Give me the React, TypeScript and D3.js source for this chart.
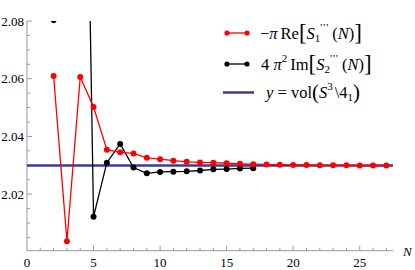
import React from 'react';
import * as d3 from 'd3';

// red: -pi Re[S1'''(N)], N = 2..27
const redN = [2, 3, 4, 5, 6, 7, 8, 9, 10, 11, 12, 13, 14, 15, 16, 17, 18, 19, 20, 21, 22, 23, 24, 25, 26, 27];
const redValues = [
  2.0609, 2.0037, 2.0606, 2.0502, 2.0354, 2.0345, 2.0341, 2.0326, 2.0321, 2.0316,
  2.0312, 2.031, 2.0309, 2.0307, 2.0305, 2.0304, 2.0303, 2.0302, 2.0301, 2.0301,
  2.03, 2.03, 2.03, 2.0299, 2.0299, 2.0299,
];

// black: 4 pi^2 Im[S2'''(N)], N = 2..17 (3 and 4 lie far above the plot)
const blackN = [2, 3, 4, 5, 6, 7, 8, 9, 10, 11, 12, 13, 14, 15, 16, 17];
const blackValues = [
  2.0803, 2.35, 2.2834, 2.0122, 2.0309, 2.0374, 2.0292, 2.0272, 2.0277, 2.0278,
  2.0279, 2.0282, 2.0286, 2.0287, 2.0289, 2.029,
];

const volume = 2.029883;

const xTicks = [0, 5, 10, 15, 20, 25];
const yTicks = [2.02, 2.04, 2.06, 2.08];

const W = 415;
const H = 270;
const left = 27;
const right = 393;
const top = 21;
const bottom = 250.7;

const serif = { fontFamily: "'Liberation Serif', 'Times New Roman', Times, 'DejaVu Serif', serif" };

export default function App() {
  const x = d3.scaleLinear().domain([0, 27.5]).range([left, right]);
  const y = d3.scaleLinear().domain([2.0004, 2.08]).range([bottom, top]);

  const line = d3
    .line<[number, number]>()
    .x((d) => x(d[0]))
    .y((d) => y(d[1]));

  const redPts: [number, number][] = redN.map((n, i) => [n, redValues[i]]);
  const blackPts: [number, number][] = blackN.map((n, i) => [n, blackValues[i]]);

  const xMinor = d3.range(1, 28).filter((v) => v % 5 !== 0);
  // minor y ticks every 0.005, skipping the labelled ones
  const yMinor = d3.range(1, 16).filter((k) => k % 4 !== 0).map((k) => 2 + k * 0.005);

  const axisColor = '#999';

  return (
    <div style={{ position: 'fixed', left: 0, top: 0 }}>
      <svg width={W} height={H} style={{ display: 'block', background: '#fff' }}>
        <defs>
          <clipPath id="plot">
            <rect x={left} y={top} width={right - left + 10} height={bottom - top} />
          </clipPath>
        </defs>

        {/* axes */}
        <line x1={left} x2={right} y1={bottom} y2={bottom} stroke={axisColor} strokeWidth={1} />
        <line x1={left} x2={left} y1={top} y2={bottom} stroke={axisColor} strokeWidth={1} />

        {xTicks.map((t) => (
          <g key={'xt' + t}>
            {t > 0 && <line x1={x(t)} x2={x(t)} y1={bottom} y2={bottom - 5} stroke={axisColor} />}
            <text x={x(t)} y={bottom + 16} textAnchor="middle" style={serif} fontSize={13}>
              {t}
            </text>
          </g>
        ))}
        {xMinor.map((t) => (
          <line key={'xm' + t} x1={x(t)} x2={x(t)} y1={bottom} y2={bottom - 3} stroke={axisColor} />
        ))}
        {yTicks.map((t) => (
          <g key={'yt' + t}>
            <line x1={left} x2={left + 5} y1={y(t)} y2={y(t)} stroke={axisColor} />
            <text x={left - 3} y={y(t) + 4.5} textAnchor="end" style={serif} fontSize={13}>
              {t.toFixed(2)}
            </text>
          </g>
        ))}
        {yMinor.map((t, i) => (
          <line key={'ym' + i} x1={left} x2={left + 3} y1={y(t)} y2={y(t)} stroke={axisColor} />
        ))}
        <text x={403} y={bottom + 5} style={serif} fontStyle="italic" fontSize={13}>
          N
        </text>

        <g clipPath="url(#plot)">
          <line x1={left} x2={right} y1={y(volume)} y2={y(volume)} stroke="#3b3b98" strokeWidth={2.5} />
          <path d={line(blackPts) || ''} fill="none" stroke="#000" strokeWidth={1.3} />
          {blackPts.map((p, i) => (
            <circle key={'b' + i} cx={x(p[0])} cy={y(p[1])} r={3} fill="#000" />
          ))}
          <path d={line(redPts) || ''} fill="none" stroke="#f00" strokeWidth={1.3} />
          {redPts.map((p, i) => (
            <circle key={'r' + i} cx={x(p[0])} cy={y(p[1])} r={3} fill="#f00" />
          ))}
        </g>

        {/* legend */}
        <g style={serif} fontSize={16.5}>
          <line x1={227} x2={247} y1={33} y2={33} stroke="#f00" strokeWidth={1.3} />
          <circle cx={227} cy={33} r={2.6} fill="#f00" />
          <circle cx={247} cy={33} r={2.6} fill="#f00" />
          <text x={260} y={39}>
            <tspan>−</tspan>
            <tspan fontStyle="italic">π</tspan>
            <tspan dx={3}>Re</tspan>
            <tspan fontSize={23} dy={1}>[</tspan>
            <tspan fontStyle="italic" dy={-1}>S</tspan>
            <tspan fontSize={11} dy={3}>1</tspan>
            <tspan fontSize={11} dy={-11} letterSpacing={1}>'''</tspan>
            <tspan dx={3} dy={8}>(</tspan>
            <tspan fontStyle="italic">N</tspan>
            <tspan>)</tspan>
            <tspan fontSize={23} dy={1}>]</tspan>
          </text>

          <line x1={227} x2={247} y1={64} y2={64} stroke="#000" strokeWidth={1.3} />
          <circle cx={227} cy={64} r={2.6} fill="#000" />
          <circle cx={247} cy={64} r={2.6} fill="#000" />
          <text x={261} y={70}>
            <tspan>4 </tspan>
            <tspan fontStyle="italic">π</tspan>
            <tspan fontSize={11} dy={-8}>2</tspan>
            <tspan dx={3} dy={8}>Im</tspan>
            <tspan fontSize={23} dy={1}>[</tspan>
            <tspan fontStyle="italic" dy={-1}>S</tspan>
            <tspan fontSize={11} dy={3}>2</tspan>
            <tspan fontSize={11} dy={-11} letterSpacing={1}>'''</tspan>
            <tspan dx={3} dy={8}>(</tspan>
            <tspan fontStyle="italic">N</tspan>
            <tspan>)</tspan>
            <tspan fontSize={23} dy={1}>]</tspan>
          </text>

          <line x1={223} x2={254} y1={92.5} y2={92.5} stroke="#3b3b98" strokeWidth={2.5} />
          <text x={266} y={98}>
            <tspan fontStyle="italic">y</tspan>
            <tspan> = vol</tspan>
            <tspan fontSize={21} dy={1}>(</tspan>
            <tspan fontStyle="italic" dy={-1}>S</tspan>
            <tspan fontSize={11} dy={-8}>3</tspan>
            <tspan dx={2} dy={8}>\4</tspan>
            <tspan fontSize={11} dy={3}>1</tspan>
            <tspan fontSize={21} dy={-2}>)</tspan>
          </text>
        </g>
      </svg>
    </div>
  );
}
